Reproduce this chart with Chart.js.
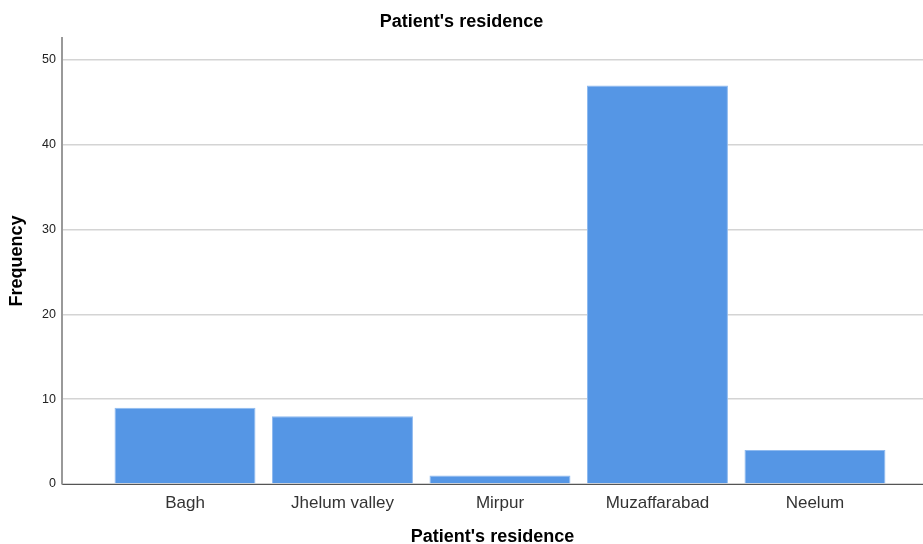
<!DOCTYPE html>
<html>
<head>
<meta charset="utf-8">
<script src="https://cdn.jsdelivr.net/npm/chart.js@4/dist/chart.umd.min.js"></script>
<style>
  html, body { margin: 0; padding: 0; background: #fff; }
  #wrap { width: 923px; height: 544px; position: relative; }
</style>
</head>
<body>
<div id="wrap"><canvas id="chart" width="923" height="544"></canvas></div>
<script>
// data
const categories = ['Bagh', 'Jhelum valley', 'Mirpur', 'Muzaffarabad', 'Neelum'];
const frequencies = [9, 8, 1, 47, 4];
const yTicks = [0, 10, 20, 30, 40, 50];

const FONT = "'Liberation Sans', Arial, sans-serif";
const BAR_COLOR = '#5596e5';

// bars placed on a linear x axis so the left gap before "Bagh" matches
const points = frequencies.map((v, i) => ({ x: i, y: v }));

new Chart(document.getElementById('chart').getContext('2d'), {
  type: 'bar',
  data: {
    datasets: [{
      data: points,
      backgroundColor: BAR_COLOR,
      borderColor: '#8fbaef',
      borderWidth: 1,
      categoryPercentage: 1,
      barPercentage: 0.895
    }]
  },
  options: {
    responsive: false,
    animation: false,
    layout: { padding: 0 },
    plugins: {
      legend: { display: false },
      tooltip: { enabled: false },
      title: {
        display: true,
        text: "Patient's residence",
        color: '#000',
        font: { family: FONT, size: 18, weight: 'bold' },
        padding: { top: 11, bottom: 5.4 }
      }
    },
    scales: {
      x: {
        type: 'linear',
        offset: false,
        min: -0.781,
        max: 4.686,
        afterBuildTicks: s => { s.ticks = categories.map((c, i) => ({ value: i })); },
        afterFit: s => { s.height = 60; },
        grid: { display: false, drawTicks: false },
        border: { display: true, color: '#555', width: 1 },
        ticks: {
          padding: 9,
          color: '#333',
          font: { family: FONT, size: 17 },
          maxRotation: 0,
          autoSkip: false,
          callback: v => categories[v]
        },
        title: {
          display: true,
          text: "Patient's residence",
          color: '#000',
          font: { family: FONT, size: 18, weight: 'bold', lineHeight: 1 },
          padding: { top: 0, bottom: -2 }
        }
      },
      y: {
        min: 0,
        max: 52.6,
        afterBuildTicks: s => { s.ticks = yTicks.map(v => ({ value: v })); },
        afterFit: s => { s.width = 62; },
        grid: { color: '#d4d4d4', lineWidth: 1.5, drawTicks: false },
        border: { display: true, color: '#999', width: 2 },
        ticks: {
          padding: 6,
          color: '#222',
          font: { family: FONT, size: 12.5 }
        },
        title: {
          display: true,
          text: 'Frequency',
          color: '#000',
          font: { family: FONT, size: 18, weight: 'bold' },
          padding: { top: 6, bottom: 0 }
        }
      }
    }
  }
});
</script>
</body>
</html>
